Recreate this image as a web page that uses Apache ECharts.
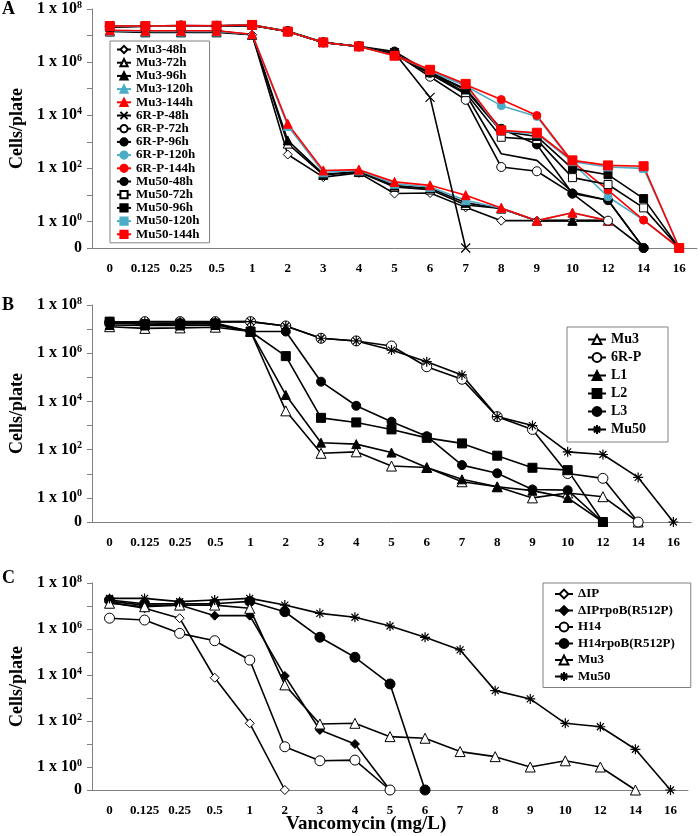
<!DOCTYPE html>
<html><head><meta charset="utf-8">
<script src="https://cdn.jsdelivr.net/npm/echarts@6/dist/echarts.min.js"></script>
<style>html,body{margin:0;padding:0;background:#fff}#c{width:700px;height:836px}</style>
</head><body><div id="c"></div>
<script>
// Vancomycin concentrations (mg/L) — category axis
const doses = ['0','0.125','0.25','0.5','1','2','3','4','5','6','7','8','9','10','12','14','16'];
// y values are log10(cells/plate); -1 stands for "0" cells
const yLabelMap = {'-1':'0','0':'0','2':'2','4':'4','6':'6','8':'8'};

// Panel A
const A_mu3_48h   = [7.18,7.18,7.18,7.18,7.03,2.52,1.67,1.83,1.05,1.07,0.53,0.03,0.03,0.03,0.03,null,null];
const A_mu3_72h   = [7.18,7.15,7.15,7.15,7.03,2.93,1.75,1.86,1.30,1.20,0.62,0.49,0.03,0.03,0.03,null,null];
const A_mu3_96h   = [7.15,7.12,7.12,7.12,7.03,3.05,1.78,1.88,1.35,1.25,0.70,0.49,0.03,0.03,0.03,null,null];
const A_mu3_120h  = [7.18,7.15,7.15,7.15,7.05,3.60,1.85,1.92,1.42,1.30,0.80,0.50,0.03,0.33,0.03,null,null];
const A_mu3_144h  = [7.20,7.18,7.18,7.18,7.05,3.68,1.92,1.95,1.49,1.36,0.99,0.51,0.03,0.33,0.03,null,null];
const A_6rp_48h   = [7.33,7.35,7.36,7.36,7.40,7.15,6.74,6.59,6.35,4.67,-1,null,null,null,null,null,null];
const A_6rp_72h   = [7.33,7.35,7.36,7.36,7.40,7.15,6.74,6.59,6.33,5.45,4.58,2.05,1.89,1.05,0.03,-1,null];
const A_6rp_96h   = [7.36,7.36,7.38,7.37,7.40,7.17,6.75,6.60,6.40,5.60,4.99,3.49,2.90,1.05,0.80,-1,null];
const A_6rp_120h  = [7.35,7.36,7.37,7.37,7.40,7.15,6.74,6.59,6.30,5.65,5.10,4.36,3.95,2.20,0.93,0.05,-1];
const A_6rp_144h  = [7.36,7.36,7.38,7.37,7.40,7.15,6.74,6.59,6.30,5.70,5.15,4.59,3.99,2.25,1.18,0.05,-1];
const A_mu50_48h  = [7.33,7.35,7.36,7.36,7.38,7.15,6.74,6.59,6.30,5.55,4.80,2.55,2.30,1.10,0.80,-1,null];
const A_mu50_72h  = [7.33,7.35,7.36,7.36,7.38,7.15,6.74,6.59,6.28,5.60,4.85,3.17,3.08,1.65,1.39,0.51,-1];
const A_mu50_96h  = [7.34,7.35,7.36,7.36,7.39,7.15,6.74,6.59,6.30,5.62,4.95,3.40,3.20,1.99,1.76,0.86,-1];
const A_mu50_120h = [7.35,7.36,7.37,7.37,7.40,7.15,6.74,6.59,6.25,5.68,5.15,3.40,3.30,2.25,2.05,2.00,-1];
const A_mu50_144h = [7.36,7.36,7.37,7.37,7.40,7.15,6.74,6.59,6.24,5.71,5.18,3.43,3.34,2.30,2.11,2.08,-1];

// Panel B
const B_mu3  = [7.10,7.03,7.05,7.08,6.90,3.61,1.85,1.91,1.32,1.26,0.67,0.46,0.00,0.20,0.05,-1,null];
const B_6rp  = [7.28,7.31,7.31,7.31,7.31,7.13,6.62,6.51,6.30,5.44,4.92,3.37,2.84,1.01,0.81,-1,null];
const B_l1   = [7.17,7.15,7.15,7.17,6.90,4.27,2.29,2.23,1.88,1.26,0.77,0.46,0.30,0.00,-1,null,null];
const B_l2   = [7.31,7.20,7.20,7.22,6.90,5.88,3.32,3.13,2.84,2.49,2.26,1.75,1.25,1.15,-1,null,null];
const B_l3   = [7.24,7.20,7.25,7.25,6.90,6.90,4.82,3.82,3.16,2.56,1.36,1.02,0.35,0.32,-1,null,null];
const B_mu50 = [7.28,7.30,7.30,7.30,7.31,7.13,6.62,6.51,6.13,5.65,5.10,3.37,3.00,1.91,1.80,0.85,-1];

// Panel C
const C_dip     = [7.15,6.90,6.47,3.88,1.90,-1,null,null,null,null,null,null,null,null,null,null,null];
const C_diprpob = [7.20,7.04,7.04,6.58,6.58,3.96,1.61,1.00,-1,null,null,null,null,null,null,null,null];
const C_h14     = [6.47,6.39,5.81,5.49,4.65,0.88,0.27,0.30,-1,null,null,null,null,null,null,null,null];
const C_h14rpob = [7.26,7.10,7.10,7.10,7.20,6.75,5.64,4.77,3.61,-1,null,null,null,null,null,null,null];
const C_mu3     = [7.12,6.97,7.04,7.04,6.90,3.57,1.87,1.90,1.32,1.25,0.67,0.45,0.00,0.27,0.00,-1,null];
const C_mu50    = [7.33,7.33,7.19,7.26,7.33,7.04,6.68,6.51,6.13,5.64,5.09,3.32,2.96,1.90,1.75,0.77,-1];

const FONT = '"Liberation Serif","Times New Roman",serif';
const BLACK = '#000', RED = '#ff0000', CYAN = '#4bacc6', WHITE = '#ffffff', AX = '#808080';
const X_PATH = 'path://M0,0L10,10M0,10L10,0';
const AST_PATH = 'path://M5,0L5,10M0,5L10,5M1.5,1.5L8.5,8.5M1.5,8.5L8.5,1.5';

function ser(name, data, g, symbol, fill, line, size) {
  const isPath = symbol.indexOf('path://') === 0;
  return {
    name: name, type: 'line', xAxisIndex: g, yAxisIndex: g, data: data,
    symbol: symbol, symbolSize: size, showSymbol: symbol !== 'none',
    itemStyle: {color: isPath ? 'rgba(0,0,0,0)' : fill, borderColor: line, borderWidth: isPath ? 1.2 : 1},
    lineStyle: {color: line, width: 1.6},
    emphasis: {disabled: true}, z: 2
  };
}

const grids = [
  {left: 92, top: 8, width: 605, height: 240},
  {left: 92, top: 305, width: 599, height: 217},
  {left: 92, top: 583, width: 596, height: 207}
];

function xAx(g) {
  return {
    type: 'category', gridIndex: g, data: doses, boundaryGap: true,
    axisLine: {onZero: false, lineStyle: {color: AX, width: 1}},
    axisTick: {length: 5, lineStyle: {color: AX}},
    axisLabel: {fontFamily: FONT, fontWeight: 'bold', fontSize: 13, color: '#000', margin: 14, interval: 0},
    splitLine: {show: false}
  };
}
function yAx(g) {
  return {
    type: 'value', gridIndex: g, min: -1, max: 8, interval: 1,
    axisLine: {show: true, lineStyle: {color: AX, width: 1}},
    axisTick: {show: true, length: 5, lineStyle: {color: AX}},
    splitLine: {show: false},
    name: 'Cells/plate', nameLocation: 'middle', nameGap: 66, nameRotate: 90,
    nameTextStyle: {fontFamily: FONT, fontWeight: 'bold', fontSize: 18, color: '#000'},
    axisLabel: {
      margin: 10,
      formatter: function (v) {
        const k = String(v);
        if (v === -1) return '{b|0}';
        if (v % 2 === 0 && yLabelMap[k] !== undefined) return '{b|1 x 10}{s|' + yLabelMap[k] + '}';
        return '';
      },
      rich: {
        b: {fontFamily: FONT, fontWeight: 'bold', fontSize: 16, color: '#000', lineHeight: 18},
        s: {fontFamily: FONT, fontWeight: 'bold', fontSize: 10, color: '#000', verticalAlign: 'top', lineHeight: 10}
      }
    }
  };
}

const series = [
  ser('Mu3-48h', A_mu3_48h, 0, 'diamond', WHITE, BLACK, 9),
  ser('Mu3-72h', A_mu3_72h, 0, 'triangle', WHITE, BLACK, 9),
  ser('Mu3-96h', A_mu3_96h, 0, 'triangle', BLACK, BLACK, 9),
  ser('Mu3-120h', A_mu3_120h, 0, 'triangle', CYAN, CYAN, 9),
  ser('Mu3-144h', A_mu3_144h, 0, 'triangle', RED, RED, 9),
  ser('6R-P-48h', A_6rp_48h, 0, X_PATH, BLACK, BLACK, 9),
  ser('6R-P-72h', A_6rp_72h, 0, 'circle', WHITE, BLACK, 9),
  ser('6R-P-96h', A_6rp_96h, 0, 'circle', BLACK, BLACK, 9),
  ser('6R-P-120h', A_6rp_120h, 0, 'circle', CYAN, CYAN, 8),
  ser('6R-P-144h', A_6rp_144h, 0, 'circle', RED, RED, 8),
  ser('Mu50-48h', A_mu50_48h, 0, 'none', BLACK, BLACK, 8),
  ser('Mu50-72h', A_mu50_72h, 0, 'rect', WHITE, BLACK, 8),
  ser('Mu50-96h', A_mu50_96h, 0, 'rect', BLACK, BLACK, 8),
  ser('Mu50-120h', A_mu50_120h, 0, 'rect', CYAN, CYAN, 8),
  ser('Mu50-144h', A_mu50_144h, 0, 'rect', RED, RED, 9),

  ser('Mu3', B_mu3, 1, 'triangle', WHITE, BLACK, 10),
  ser('6R-P', B_6rp, 1, 'circle', WHITE, BLACK, 10),
  ser('L1', B_l1, 1, 'triangle', BLACK, BLACK, 9),
  ser('L2', B_l2, 1, 'rect', BLACK, BLACK, 9),
  ser('L3', B_l3, 1, 'circle', BLACK, BLACK, 9),
  ser('Mu50', B_mu50, 1, AST_PATH, BLACK, BLACK, 10),

  ser('ΔIP', C_dip, 2, 'diamond', WHITE, BLACK, 9),
  ser('ΔIPrpoB(R512P)', C_diprpob, 2, 'diamond', BLACK, BLACK, 9),
  ser('H14', C_h14, 2, 'circle', WHITE, BLACK, 10),
  ser('H14rpoB(R512P)', C_h14rpob, 2, 'circle', BLACK, BLACK, 10),
  ser('Mu3 ', C_mu3, 2, 'triangle', WHITE, BLACK, 10),
  ser('Mu50 ', C_mu50, 2, AST_PATH, BLACK, BLACK, 10)
];

function legendBox(names, left, top, padding, fontSize, lineHeight, gap, iw, ih) {
  return {
    data: names, orient: 'vertical', left: left, top: top, padding: padding,
    itemWidth: iw, itemHeight: ih, itemGap: gap,
    backgroundColor: '#fff', borderColor: AX, borderWidth: 1,
    selectedMode: false,
    textStyle: {fontFamily: FONT, fontWeight: 'bold', fontSize: fontSize, color: '#000', lineHeight: lineHeight}
  };
}

const option = {
  animation: false,
  backgroundColor: '#fff',
  grid: grids,
  xAxis: [xAx(0), xAx(1), xAx(2)],
  yAxis: [yAx(0), yAx(1), yAx(2)],
  legend: [
    legendBox(series.slice(0, 15).map(s => s.name), 110, 41, [2, 10, 2, 6], 13, 13, 0.2, 14, 9),
    legendBox(series.slice(15, 21).map(s => s.name), 567, 327, [5, 22, 5, 20], 14, 15, 3, 18, 11),
    legendBox(series.slice(21).map(s => s.name), 543, 583, [4, 16, 4, 11], 13, 14, 2.5, 18, 11)
  ],
  graphic: [
    {type: 'text', left: 2, top: 0, style: {text: 'A', font: 'bold 18px ' + FONT, fill: '#000'}},
    {type: 'text', left: 2, top: 296, style: {text: 'B', font: 'bold 18px ' + FONT, fill: '#000'}},
    {type: 'text', left: 2, top: 569, style: {text: 'C', font: 'bold 18px ' + FONT, fill: '#000'}},
    {type: 'text', left: 286, top: 815, style: {text: 'Vancomycin (mg/L)', font: 'bold 19px ' + FONT, fill: '#000'}}
  ],
  series: series
};

const chart = echarts.init(document.getElementById('c'), null, {renderer: 'canvas'});
chart.setOption(option);
</script>
</body></html>
